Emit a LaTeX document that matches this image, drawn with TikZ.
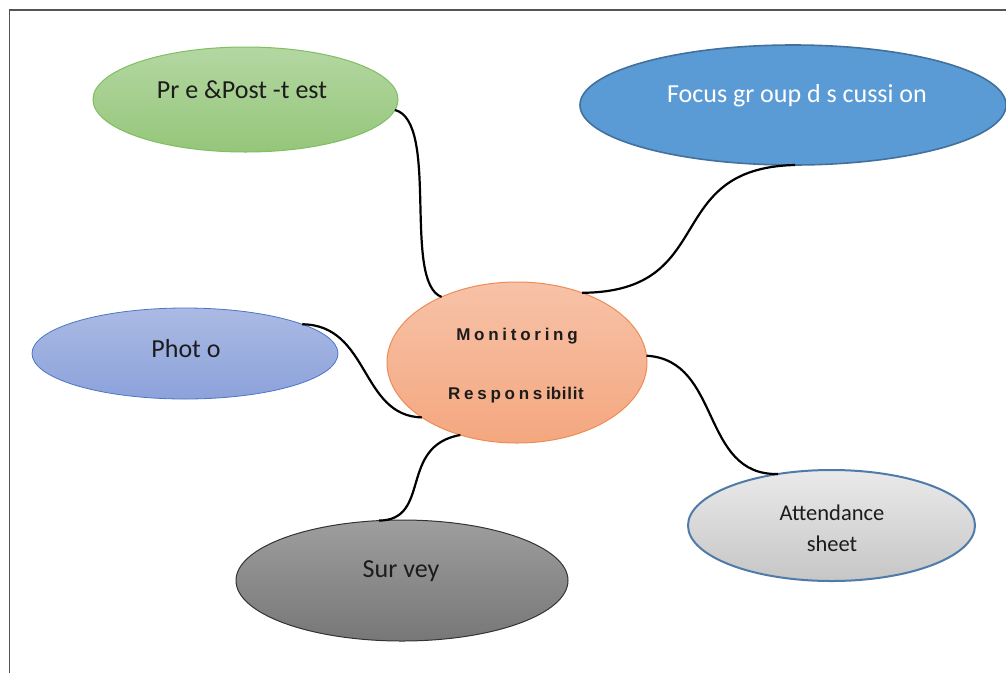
\documentclass[tikz,border=0pt]{standalone}
\usepackage{fontspec}
\setmainfont{Carlito}
\newfontfamily\monfont[LetterSpace=22]{Liberation Sans}
\newfontfamily\monfonttight[LetterSpace=4]{Liberation Sans}
\definecolor{greenTop}{HTML}{B4D7A2}
\definecolor{greenBot}{HTML}{95C67A}
\definecolor{greenEdge}{HTML}{7FBF5F}
\definecolor{focusFill}{HTML}{5B9BD5}
\definecolor{focusEdge}{HTML}{41719C}
\definecolor{monTop}{HTML}{F7C2A8}
\definecolor{monBot}{HTML}{F4A77F}
\definecolor{monEdge}{HTML}{EE8C55}
\definecolor{photoTop}{HTML}{ABBAE4}
\definecolor{photoBot}{HTML}{8CA2DA}
\definecolor{photoEdge}{HTML}{4A76C6}
\definecolor{survTop}{HTML}{9E9E9E}
\definecolor{survBot}{HTML}{777777}
\definecolor{attTop}{HTML}{EAEAEA}
\definecolor{attBot}{HTML}{C6C6C6}
\definecolor{attEdge}{HTML}{4F7BAA}
\definecolor{frameGray}{HTML}{555555}
\definecolor{ink}{HTML}{1C1C1C}
\usetikzlibrary{shapes.geometric}
\begin{document}
\begin{tikzpicture}[x=1pt,y=-1pt,
  bubble/.style={ellipse, inner sep=0pt, outer sep=0pt},
  label/.style={font=\fontsize{26}{30}\selectfont, text=ink, inner sep=0pt},
  link/.style={line width=2.2pt, black}]
  \useasboundingbox (0,0) rectangle (1006,673);
  \fill[white] (0,0) rectangle (1006,673);
  % page frame (only left and top edges are visible)
  \draw[frameGray, line width=1.4pt] (9.5,673) -- (9.5,10) -- (1006,10);

  % topic bubbles
  \node[bubble, minimum width=305pt, minimum height=105pt, top color=greenTop, bottom color=greenBot, draw=greenEdge, line width=1pt] (pre) at (245.5,99.5) {};
  \node[bubble, minimum width=426pt, minimum height=120pt, fill=focusFill, draw=focusEdge, line width=1.6pt] (focus) at (793,105) {};
  \node[bubble, minimum width=260pt, minimum height=161pt, top color=monTop, bottom color=monBot, draw=monEdge, line width=1pt] (mon) at (517,362.5) {};
  \node[bubble, minimum width=306pt, minimum height=91pt, top color=photoTop, bottom color=photoBot, draw=photoEdge, line width=0.8pt] (photo) at (185,353.5) {};
  \node[bubble, minimum width=332pt, minimum height=121pt, top color=survTop, bottom color=survBot, draw=black!80, line width=1pt] (survey) at (402,580.5) {};
  \node[bubble, minimum width=287pt, minimum height=111pt, top color=attTop, bottom color=attBot, draw=attEdge, line width=2pt] (att) at (831.5,525.5) {};

  % bubble texts
  \node[label] (preT) at (242,90) {Pr e \&Post -t est};
  \node[label, text=white] (focusT) at (797,96) {Focus gr oup d s cussi on};
  \node[label] (photoT) at (186,349) {Phot o};
  \node[label] (surveyT) at (401,571) {Sur vey};
  \node[label, font=\fontsize{22.5}{31}\selectfont, align=center] (attT) at (832,528) {Attendance\\sheet};
  \node[inner sep=0pt, text=ink, font=\monfont\bfseries\fontsize{17}{20}\selectfont] (monA) at (517,336) {Monitoring};
  \node[inner sep=0pt, text=ink, font=\fontsize{17}{20}\selectfont\bfseries] (monB) at (516,395) {{\monfont Responsi}{\monfonttight bilit}};

  % wavy connectors from the centre bubble
  \draw[link] (pre.-4) .. controls (440,122) and (402,282) .. (mon.139);
  \draw[link] (mon.47) .. controls (720,292) and (660,168) .. (focus.-88);
  \draw[link] (photo.14) .. controls (370,325) and (360,416) .. (mon.-150);
  \draw[link] (mon.-128) .. controls (398,446) and (432,520) .. (survey.111);
  \draw[link] (mon.3) .. controls (722,360) and (700,476) .. (att.136);
\end{tikzpicture}
\end{document}
